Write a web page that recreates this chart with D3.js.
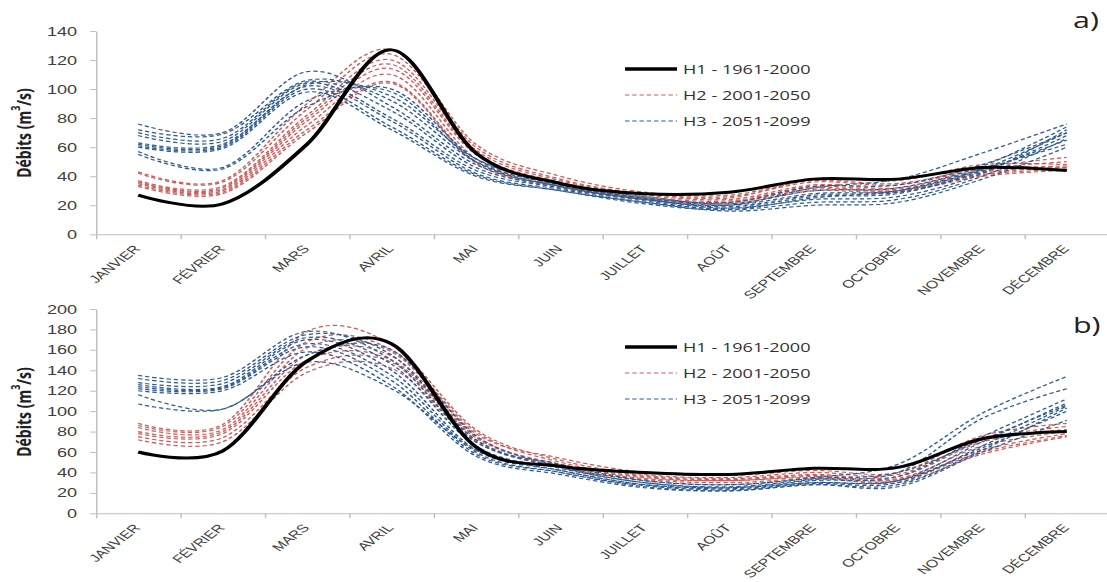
<!DOCTYPE html>
<html>
<head>
<meta charset="utf-8">
<script src="https://cdn.jsdelivr.net/npm/d3@7"></script>
<style>
  body { margin: 0; background: #fff; }
  svg { display: block; }
</style>
</head>
<body>
<div id="chart"></div>
<script>
const months = ["JANVIER", "FÉVRIER", "MARS", "AVRIL", "MAI", "JUIN", "JUILLET", "AOÛT", "SEPTEMBRE", "OCTOBRE", "NOVEMBRE", "DÉCEMBRE"];
const legendLabels = ["H1 - 1961-2000", "H2 - 2001-2050", "H3 - 2051-2099"];
const yTicksA = [0, 20, 40, 60, 80, 100, 120, 140];
const yTicksB = [0, 20, 40, 60, 80, 100, 120, 140, 160, 180, 200];

// panel a)
const h1A = [27, 21, 62, 127, 56, 35, 28, 29, 38, 38, 46, 44];
const h2A = [
  [43, 37, 90, 127, 62, 40, 29, 27, 37, 35, 46, 53],
  [42, 36, 86, 124, 60, 38, 28, 26, 36, 34, 45, 50],
  [37, 33, 82, 120, 58, 37, 28, 25, 38, 37, 48, 48],
  [36, 32, 80, 117, 56, 36, 27, 24, 34, 32, 44, 47],
  [36, 31, 78, 114, 55, 35, 26, 23, 33, 31, 43, 46],
  [35, 30, 75, 110, 52, 34, 25, 22, 32, 30, 42, 46],
  [34, 29, 72, 105, 50, 33, 25, 22, 31, 30, 41, 45],
  [33, 28, 70, 104, 49, 32, 24, 21, 30, 29, 40, 44]
];
const h3A = [
  [76, 70, 112, 88, 48, 33, 24, 18, 24, 26, 42, 72],
  [72, 69, 106, 92, 50, 34, 25, 20, 28, 30, 45, 70],
  [70, 66, 105, 85, 46, 33, 24, 19, 27, 29, 43, 68],
  [68, 64, 104, 80, 44, 32, 23, 17, 22, 24, 40, 66],
  [63, 62, 103, 95, 52, 35, 26, 21, 30, 32, 47, 74],
  [62, 61, 102, 78, 42, 31, 22, 18, 26, 28, 44, 65],
  [61, 60, 100, 74, 41, 30, 22, 16, 20, 22, 38, 60],
  [60, 59, 98, 72, 40, 30, 21, 17, 25, 30, 45, 62],
  [57, 46, 92, 98, 50, 33, 24, 20, 32, 38, 56, 76],
  [55, 45, 88, 100, 52, 35, 25, 22, 33, 34, 48, 70]
];

// panel b)
const h1B = [60, 61, 149, 166, 65, 46, 40, 38, 44, 45, 73, 80];
const h2B = [
  [88, 87, 178, 165, 82, 52, 38, 35, 40, 38, 72, 85],
  [86, 85, 168, 160, 80, 50, 37, 34, 38, 36, 70, 82],
  [84, 82, 162, 158, 78, 54, 40, 37, 42, 40, 76, 88],
  [80, 80, 155, 154, 75, 48, 36, 33, 37, 34, 66, 80],
  [78, 78, 150, 150, 74, 47, 35, 32, 36, 33, 62, 78],
  [75, 74, 143, 148, 72, 46, 34, 32, 35, 30, 58, 75],
  [72, 70, 138, 142, 70, 45, 33, 30, 34, 32, 60, 76]
];
const h3B = [
  [135, 133, 178, 150, 70, 48, 32, 28, 35, 48, 98, 134],
  [132, 130, 175, 155, 72, 45, 30, 26, 33, 40, 93, 122],
  [128, 127, 172, 146, 66, 44, 30, 25, 32, 36, 75, 112],
  [126, 124, 170, 140, 62, 42, 28, 24, 30, 32, 70, 108],
  [124, 123, 166, 135, 60, 40, 27, 23, 29, 30, 66, 105],
  [122, 122, 163, 130, 58, 40, 26, 22, 28, 28, 62, 103],
  [120, 120, 158, 125, 56, 38, 25, 22, 28, 26, 60, 91],
  [116, 102, 155, 160, 76, 46, 32, 28, 34, 40, 72, 106],
  [107, 102, 148, 122, 62, 42, 28, 25, 30, 32, 64, 100]
];

const S = 1.45; // the original figure is stretched horizontally
const width = 1107, height = 582;
const W = width / S;

const RED = "#c95f5c", BLUE = "#2f5b8f";

const svg = d3.select("#chart").append("svg")
    .attr("width", width)
    .attr("height", height)
    .attr("viewBox", [0, 0, W, height])
    .attr("preserveAspectRatio", "none")
    .attr("font-family", "'Open Sans', sans-serif");

const x = d3.scaleBand().domain(months).range([96 / S, 1109 / S]);
const xb = d3.scaleLinear().domain([0, 12]).range(x.range());

function panel(p) {
    const y = d3.scaleLinear([0, p.max], [p.y0, p.y1]);
    const g = svg.append("g");

    // y axis
    g.append("g")
        .attr("transform", `translate(${x.range()[0]},0)`)
        .call(d3.axisLeft(y).tickValues(p.ticks).tickSize(4).tickSizeOuter(0).tickPadding(9))
        .call(a => a.selectAll("path,line").attr("stroke", "#bfbfbf"))
        .call(a => a.selectAll("text").attr("font-size", 12.5).attr("fill", "#404040").attr("font-family", null));

    // x axis: ticks between months
    g.append("g")
        .attr("transform", `translate(0,${p.y0})`)
        .call(d3.axisBottom(xb).tickValues(d3.range(13)).tickFormat("").tickSize(5).tickSizeOuter(0))
        .call(a => a.selectAll("path,line").attr("stroke", "#bfbfbf"));

    g.append("g")
        .attr("transform", `translate(0,${p.y0})`)
        .call(d3.axisBottom(x).tickSize(0))
        .call(a => a.select(".domain").remove())
        .call(a => a.selectAll("text")
            .attr("x", 0).attr("y", 0).attr("dy", 0)
            .attr("transform", `translate(${3 / S},15) rotate(-48)`)
            .attr("text-anchor", "end")
            .attr("font-size", 11)
            .attr("fill", "#404040")
            .attr("font-family", null));

    // y title
    const t = g.append("text")
        .attr("transform", `translate(${23 / S},${p.titleY}) rotate(-90)`)
        .attr("text-anchor", "middle")
        .attr("dominant-baseline", "central")
        .attr("font-size", 14)
        .attr("font-weight", "bold")
        .attr("fill", "#222");
    t.append("tspan").text("Débits (m");
    t.append("tspan").text("3").attr("font-size", 9).attr("baseline-shift", "super");
    t.append("tspan").text("/s)");

    const line = d3.line()
        .x((d, i) => x(months[i]) + x.bandwidth() / 2)
        .y(d => y(d))
        .curve(d3.curveCatmullRom.alpha(0));

    g.append("g").selectAll("path").data(p.h2).join("path")
        .attr("d", line).attr("fill", "none")
        .attr("stroke", RED).attr("stroke-width", 1.2).attr("stroke-dasharray", "3,2");
    g.append("g").selectAll("path").data(p.h3).join("path")
        .attr("d", line).attr("fill", "none")
        .attr("stroke", BLUE).attr("stroke-width", 1.2).attr("stroke-dasharray", "3,2");
    g.append("path")
        .attr("d", line(p.h1)).attr("fill", "none")
        .attr("stroke", "#000").attr("stroke-width", 3);

    // legend
    const styles = [
        { stroke: "#000", w: 3.5, dash: null },
        { stroke: RED, w: 1.2, dash: "3,2" },
        { stroke: BLUE, w: 1.2, dash: "3,2" }
    ];
    const lg = g.append("g").selectAll("g").data(legendLabels).join("g")
        .attr("transform", (d, i) => `translate(0,${p.legendY + i * 26})`);
    lg.append("line")
        .attr("x1", 625 / S).attr("x2", 677 / S)
        .attr("stroke", (d, i) => styles[i].stroke)
        .attr("stroke-width", (d, i) => styles[i].w)
        .attr("stroke-dasharray", (d, i) => styles[i].dash);
    lg.append("text")
        .attr("x", 683 / S)
        .attr("dominant-baseline", "central")
        .attr("font-size", 12.5)
        .attr("fill", "#333")
        .text(d => d);

    g.append("text")
        .attr("x", 1073 / S).attr("y", p.tagY)
        .attr("font-size", 21)
        .attr("fill", "#222")
        .text(p.tag);
}

panel({ max: 140, y0: 234.3, y1: 31, ticks: yTicksA, h1: h1A, h2: h2A, h3: h3A,
        tag: "a)", tagY: 28, legendY: 69, titleY: 133 });
panel({ max: 200, y0: 513.3, y1: 309, ticks: yTicksB, h1: h1B, h2: h2B, h3: h3B,
        tag: "b)", tagY: 333, legendY: 347, titleY: 412 });
</script>
</body>
</html>
